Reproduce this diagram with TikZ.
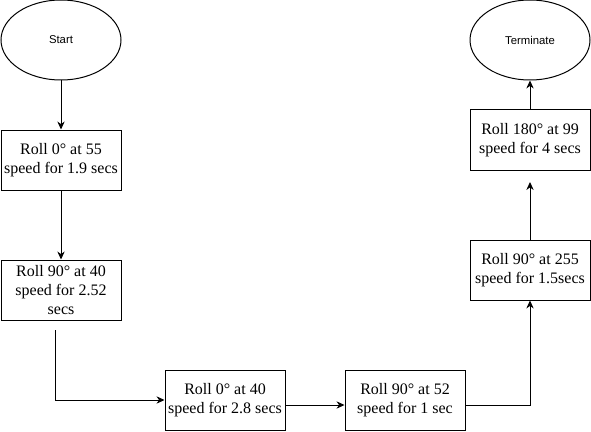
\documentclass[tikz,border=0pt]{standalone}
\usepackage{fontspec}
\setmainfont{Liberation Serif}
\newfontfamily\labelsans{Liberation Sans}
\usetikzlibrary{shapes.geometric,arrows.meta}
\begin{document}
\begin{tikzpicture}[x=0.75pt,y=-0.75pt,
  line width=0.75pt,
  terminal/.style={draw,ellipse,minimum width=90pt,minimum height=60pt,inner sep=0pt,
    font=\labelsans\fontsize{8.5}{10}\selectfont},
  stepbox/.style={draw,rectangle,minimum width=90pt,minimum height=45pt,inner sep=1pt,
    align=center,font=\fontsize{12}{14.5}\selectfont},
  flow/.style={-{Stealth[length=6pt,width=5.5pt]}}]
  \useasboundingbox (0,0) rectangle (591,431);

  % terminals
  \node[terminal] (start) at (61,40) {Start};
  \node[terminal] (term) at (530,40) {Terminate};

  % steps
  \node[stepbox] (s1) at (61,160) {Roll 0° at 55\\speed for 1.9 secs};
  \node[stepbox] (s2) at (61,290) {Roll 90° at 40\\speed for 2.52\\secs};
  \node[stepbox] (s3) at (225,400) {Roll 0° at 40\\speed for 2.8 secs};
  \node[stepbox] (s4) at (405,400) {Roll 90° at 52\\speed for 1 sec};
  \node[stepbox] (s5) at (530,270) {Roll 90° at 255\\speed for 1.5secs};
  \node[stepbox] (s6) at (530,140) {Roll 180° at 99\\speed for 4 secs};

  % loose connector ends
  \coordinate (s2out) at (55,330);
  \coordinate (s6in) at (530,182);

  % connectors
  \draw[flow] (start) -- (s1);
  \draw[flow] (s1) -- (s2);
  \draw[flow] (s2out) |- (s3.west);
  \draw[flow] ([yshift=-3.75pt]s3.east) -- ([yshift=-3.75pt]s4.west);
  \draw[flow] ([yshift=-3.75pt]s4.east) -| (s5.south);
  \draw[flow] (s5.north) -- (s6in);
  \draw[flow] (s6) -- (term);
\end{tikzpicture}
\end{document}
